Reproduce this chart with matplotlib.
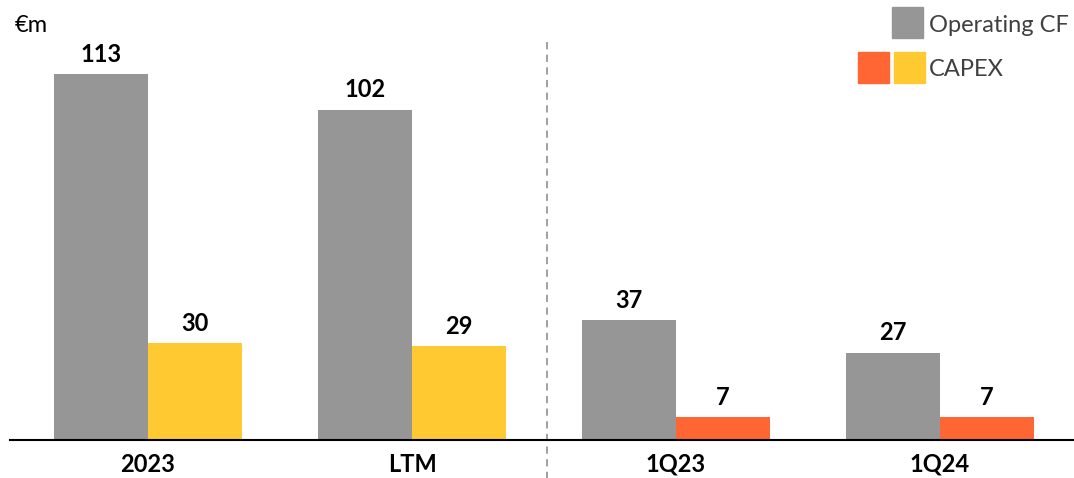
import matplotlib.pyplot as plt
from matplotlib.patches import Rectangle

periods = ["2023", "LTM", "1Q23", "1Q24"]
operating_cf = [113, 102, 37, 27]
capex = [30, 29, 7, 7]
capex_colors = ["#FFC932", "#FFC932", "#FF6633", "#FF6633"]

grey = "#969696"
plt.rcParams['font.family'] = ['Lato', 'DejaVu Sans']

fig = plt.figure(figsize=(10.74, 4.78), dpi=100)
ax = fig.add_axes([10 / 1074, 38 / 478, 1064 / 1074, 440 / 478])

x = range(len(periods))
w = 0.356
ax.bar([i - w / 2 for i in x], operating_cf, w, color=grey)
ax.bar([i + w / 2 for i in x], capex, w, color=capex_colors)

for i in x:
    ax.text(i - w / 2, operating_cf[i] + 2.5, str(operating_cf[i]), ha='center', va='bottom',
            fontsize=17, fontweight='bold')
    ax.text(i + w / 2, capex[i] + 2.5, str(capex[i]), ha='center', va='bottom',
            fontsize=17, fontweight='bold')

ax.set_xlim(-0.523, 3.508)
ax.set_ylim(0, 440 / 3.24)
ax.set_xticks(list(x))
ax.set_xticklabels(periods, fontsize=17, fontweight='bold')
ax.tick_params(axis='x', length=0, pad=9)
ax.set_yticks([])
for s in ['top', 'right', 'left']:
    ax.spines[s].set_visible(False)
ax.spines['bottom'].set_linewidth(1.5)

# separator between annual and quarterly
ax.plot([1.511, 1.511], [-12, 123], ls='--', color='#999999', lw=1.3, clip_on=False,
        dashes=(4, 3))

fig.text(15 / 1074, 1 - 26 / 478, "€m", fontsize=17, va='center')

# legend
def sq(px, py, color):
    fig.patches.append(Rectangle((px / 1074, 1 - (py + 31) / 478), 31 / 1074, 31 / 478,
                                 transform=fig.transFigure, color=color))

sq(892, 7, grey)
sq(858, 52, "#FF6633")
sq(894, 52, "#FFC932")
fig.text(929 / 1074, 1 - 25 / 478, "Operating CF", fontsize=17, color='#404040', va='center')
fig.text(929 / 1074, 1 - 70 / 478, "CAPEX", fontsize=17, color='#404040', va='center')

fig.savefig("out.png", dpi=100)
